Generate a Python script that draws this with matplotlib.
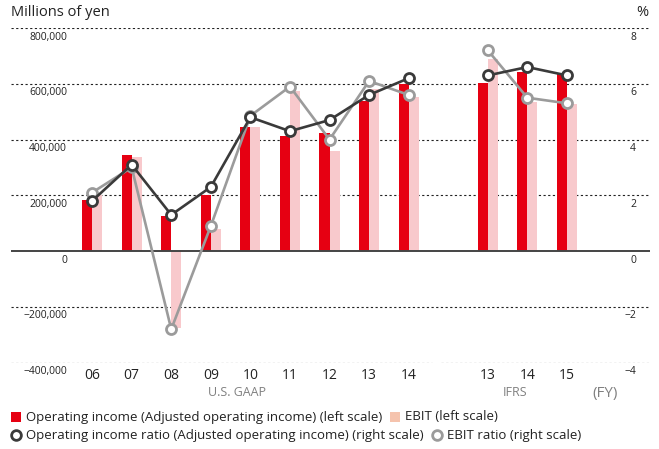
import matplotlib
matplotlib.use('Agg')
import matplotlib.pyplot as plt
from matplotlib import transforms
from matplotlib.lines import Line2D

plt.rcParams['font.family'] = ['Open Sans', 'DejaVu Sans']

# fiscal years: U.S. GAAP FY06-FY14, then IFRS FY13-FY15
years = ['06', '07', '08', '09', '10', '11', '12', '13', '14', '13', '14', '15']
slots = [0, 1, 2, 3, 4, 5, 6, 7, 8, 10, 11, 12]
n_gaap = 9

# millions of yen
op_income = [182500, 345500, 127000, 202000, 444500, 412300, 422000, 538800, 600500,
             604000, 641300, 634800]
ebit = [202000, 338000, -275000, 79000, 444000, 575000, 358000, 583000, 551000,
        690000, 534000, 529000]
# percent
op_ratio = [1.8, 3.1, 1.3, 2.3, 4.8, 4.3, 4.7, 5.6, 6.2, 6.3, 6.6, 6.3]
ebit_ratio = [2.1, 3.0, -2.8, 0.9, 4.85, 5.9, 4.0, 6.1, 5.6, 7.2, 5.5, 5.3]

left_ticks = [800000, 600000, 400000, 200000, 0, -200000, -400000]
left_labels = ['800,000', '600,000', '400,000', '200,000', '0', '\u2212200,000', '\u2212400,000']
right_ticks = [8, 6, 4, 2, 0, -2, -4]
right_labels = ['8', '6', '4', '2', '0', '\u22122', '\u22124']

RED = '#e60012'
PINK = '#f8c9cc'
DARK = '#3a3a3a'
GREY = '#9b9b9b'
TXT = '#222222'

W, H = 659, 449
fig = plt.figure(figsize=(W / 100, H / 100), dpi=100)


def fx(px):
    return px / W


def fy(py):
    return 1 - py / H


ax = fig.add_axes([fx(11), fy(362.7), fx(650) - fx(11), fy(28) - fy(362.7)])
ax2 = ax.twinx()
ax2.set_position(ax.get_position())

xmin, xmax = -2.05, 14.1
ax.set_xlim(xmin, xmax)
ax.set_ylim(-400000, 800000)
ax2.set_ylim(-4, 8)

for a in (ax, ax2):
    for s in a.spines.values():
        s.set_visible(False)
    a.set_yticks([])
ax2.set_zorder(ax.get_zorder() + 1)
ax2.patch.set_visible(False)

# grid lines
for v in left_ticks:
    if v == 0:
        ax.axhline(0, color='#444444', lw=1.4, zorder=3)
    elif v == -400000:
        ax.plot([xmin, 8.6], [v, v], color='#222222', lw=0.8, ls=(0, (2, 2.2)), zorder=1)
        ax.plot([8.82, xmax], [v, v], color='#222222', lw=0.8, ls=(0, (2, 2.2)), zorder=1)
    else:
        ax.axhline(v, color='#222222', lw=0.8, ls=(0, (2, 2.2)), zorder=1)

bw = 0.255
ax.bar(slots, op_income, width=-bw, align='edge', color=RED, zorder=2)
ax.bar(slots, ebit, width=bw, align='edge', color=PINK, zorder=2)

line_kw = dict(marker='o', ms=7.2, mfc='white', mew=2.0, lw=1.9, zorder=4)
# gaap and ifrs segments are not connected
for sl in (slice(0, n_gaap), slice(n_gaap, None)):
    ax2.plot(slots[sl], ebit_ratio[sl], color=GREY, mec=GREY, **line_kw)
    ax2.plot(slots[sl], op_ratio[sl], color=DARK, mec=DARK, **line_kw)

ax.set_xticks(slots)
ax.set_xticklabels(years, fontsize=10, color=TXT)
ax.tick_params(axis='x', length=0, pad=4)

# y labels sit just under each grid line
tl = transforms.offset_copy(transforms.blended_transform_factory(fig.transFigure, ax.transData),
                            fig=fig, y=-9, units='dots')
for v, lab in zip(left_ticks, left_labels):
    fig.text(fx(67), v, lab, transform=tl, ha='right', va='center', fontsize=7.5, color=TXT)
tr = transforms.offset_copy(transforms.blended_transform_factory(fig.transFigure, ax2.transData),
                            fig=fig, y=-9, units='dots')
for v, lab in zip(right_ticks, right_labels):
    fig.text(fx(636), v, lab, transform=tr, ha='right', va='center', fontsize=7.5, color=TXT)

fig.text(fx(11), fy(12), 'Millions of yen', fontsize=10.5, color=TXT, va='center')
fig.text(fx(648), fy(12), '%', fontsize=10.5, color=TXT, va='center', ha='right')

fig.text(fx(237), fy(392), 'U.S. GAAP', fontsize=9, color='#808080', ha='center', va='center')
fig.text(fx(515), fy(392), 'IFRS', fontsize=9, color='#808080', ha='center', va='center')
fig.text(fx(605), fy(393), '(FY)', fontsize=11, color='#808080', ha='center', va='center')

# legend
def legend_item(x, y, marker, col, face, label):
    fig.add_artist(Line2D([fx(x)], [fy(y)], marker=marker, ms=7.5 if marker == 's' else 7,
                          mfc=face, mec=col, mew=0 if marker == 's' else 2.0,
                          ls='none', transform=fig.transFigure))
    fig.text(fx(x + 10), fy(y), label, fontsize=9.5, color=TXT, va='center')

legend_item(16, 417, 's', RED, RED, 'Operating income (Adjusted operating income) (left scale)')
legend_item(395, 417, 's', '#f5c3ad', '#f5c3ad', 'EBIT (left scale)')
legend_item(16, 435, 'o', DARK, 'white',
            'Operating income ratio (Adjusted operating income) (right scale)')
legend_item(437, 435, 'o', GREY, 'white', 'EBIT ratio (right scale)')

fig.savefig('out.png', dpi=100)
